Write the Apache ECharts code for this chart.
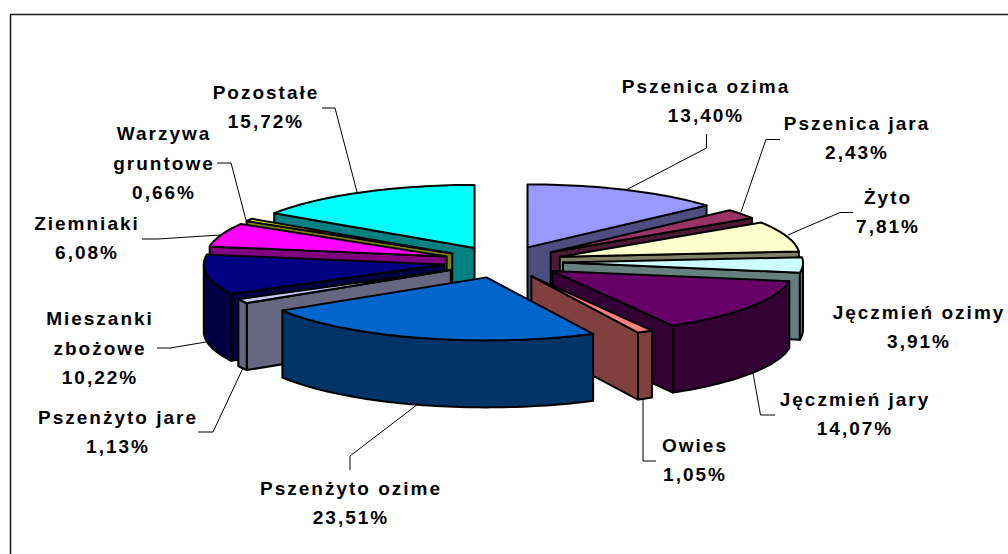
<!DOCTYPE html>
<html><head><meta charset="utf-8">
<style>html,body{margin:0;padding:0;background:#fff}#chart{width:1008px;height:554px}#chart text{letter-spacing:2px}</style>
<script src="https://cdn.jsdelivr.net/npm/echarts@6/dist/echarts.min.js"></script>
</head><body><div id="chart"></div>
<script>
const categories = ['Pszenica ozima','Pszenica jara','Żyto','Jęczmień ozimy','Jęczmień jary','Owies','Pszenżyto ozime','Pszenżyto jare','Mieszanki\nzbożowe','Ziemniaki','Warzywa\ngruntowe','Pozostałe'];
const shares = [13.40,2.43,7.81,3.91,14.07,1.05,23.51,1.13,10.22,6.08,0.66,15.72];

const topColors = ['#9999FF','#993366','#FFFFCC','#CCFFFF','#660066','#FF8080','#0066CC','#CCCCFF','#000080','#FF00FF','#FFFF00','#00FFFF'];
const sideColors = ['#4D4D80','#4D1A33','#808066','#668080','#330033','#804040','#003366','#666680','#000040','#800080','#808000','#008080'];
const labelCenters = [[706,101],[857,138],[888,212],[919,327],[855,414],[695,460],[351,503],[118,432],[100,348],[87,238],[164,163],[266,107]];
const leaderPaths = [
 [[706.5,134],[706.5,148],[626,190]],
 [[780,139.5],[766,139.5],[741,212]],
 [[853,212.5],[840,212.5],[788,235]],
 null,
 [[775,415],[760.5,415],[753,373]],
 [[656,461],[643,461],[643,398]],
 [[350,470],[350,456],[418,404]],
 [[198,432],[213,432],[243,368]],
 [[157,348],[170,348],[206,342]],
 [[142,239],[158,239],[220,235]],
 [[217,163],[231,163],[246,220]],
 [[322,108],[335,108],[357,192]]
];

const geo = {cx:503, cy:262, rx:240, ry:63, ex:60, ey:16, depth:67};
const total = shares.reduce((a,b)=>a+b,0);
const rad = d => d*Math.PI/180;
let acc = 0;
const slices = shares.map((v,i)=>{const a0=acc/total*360; acc+=v; const a1=acc/total*360; return {i,a0,a1,mid:(a0+a1)/2};});
// Painter's order: back slices first
const order = slices.slice().sort((p,q)=>Math.cos(rad(q.mid))-Math.cos(rad(p.mid)));

function renderSlice(params, api){
  const s = slices[api.value(0)];
  const ax = geo.cx + geo.ex*Math.sin(rad(s.mid));
  const ay = geo.cy - geo.ey*Math.cos(rad(s.mid));
  const rim = (d,h)=>[ax+geo.rx*Math.sin(rad(d)), ay-geo.ry*Math.cos(rad(d))+(h||0)];
  const arc = (d0,d1,h)=>{const p=[];const n=Math.max(2,Math.ceil((d1-d0)/1.5));for(let k=0;k<=n;k++)p.push(rim(d0+(d1-d0)*k/n,h));return p;};
  const poly = (pts,fill)=>({type:'polygon',shape:{points:pts},style:{fill,stroke:'#000',lineWidth:2,lineJoin:'round'}});
  const kids=[];
  const side=sideColors[s.i], top=topColors[s.i];
  const face=d=>poly([[ax,ay],rim(d),rim(d,geo.depth),[ax,ay+geo.depth]],side);
  if(Math.sin(rad(s.a0))<-1e-6) kids.push(face(s.a0));
  if(Math.sin(rad(s.a1))>1e-6) kids.push(face(s.a1));
  const w0=Math.max(s.a0,90), w1=Math.min(s.a1,270);
  if(w1>w0) kids.push(poly(arc(w0,w1,0).concat(arc(w0,w1,geo.depth).reverse()),side));
  kids.push(poly([[ax,ay]].concat(arc(s.a0,s.a1,0)),top));
  return {type:'group',children:kids};
}
const pct = v => v.toFixed(2).replace('.',',')+'%';
const textFont = {fontFamily:'"Liberation Sans",Arial,sans-serif',fontWeight:'bold',fontSize:19,lineHeight:29.5,fill:'#000',align:'center',verticalAlign:'middle'};
const graphics = [
 {type:'polyline',silent:true,shape:{points:[[10.5,554],[10.5,14.5],[1008,14.5]]},style:{fill:null,stroke:'#1a1a1a',lineWidth:1.5},z:1}
];
leaderPaths.forEach(p=>{ if(p) graphics.push({type:'polyline',silent:true,shape:{points:p},style:{fill:null,stroke:'#000',lineWidth:1},z:5}); });
categories.forEach((c,i)=>{
  graphics.push({type:'text',silent:true,x:labelCenters[i][0],y:labelCenters[i][1],style:Object.assign({text:c+'\n'+pct(shares[i])},textFont),z:6});
});
const chart = echarts.init(document.getElementById('chart'),null,{renderer:'svg'});
chart.setOption({
  animation:false,
  backgroundColor:'#fff',
  graphic:{elements:graphics},
  series:[{type:'custom',coordinateSystem:'none',silent:true,clip:false,z:3,
    renderItem:renderSlice,
    data:order.map(s=>[s.i,shares[s.i]])}]
});
</script></body></html>
